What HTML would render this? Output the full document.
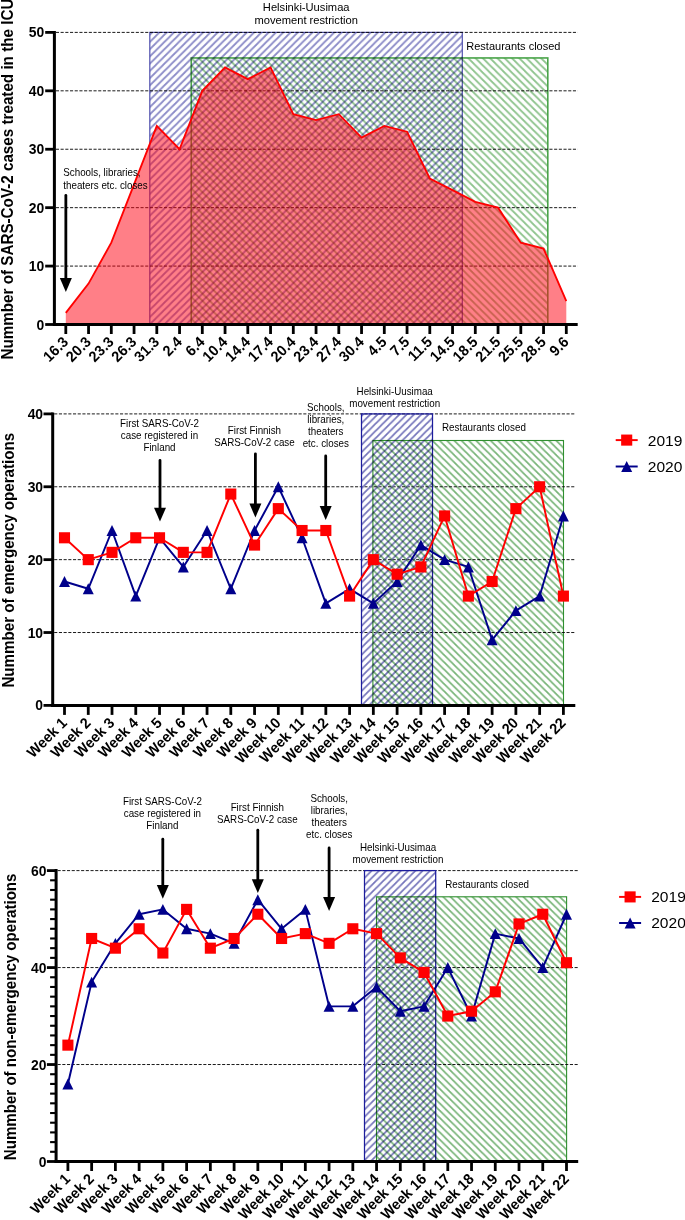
<!DOCTYPE html>
<html lang="en"><head><meta charset="utf-8"><title>ICU cases and operations</title>
<style>html,body{margin:0;padding:0;background:#fff}body{width:685px;height:1220px;overflow:hidden}svg{display:block}text{font-family:"Liberation Sans", Arial, Helvetica, sans-serif;fill:#000}</style></head><body>
<svg width="685" height="1220" viewBox="0 0 685 1220">
<rect width="685" height="1220" fill="#fff"/>
<defs>
<pattern id="hb1" patternUnits="userSpaceOnUse" width="7.285" height="7.24" x="155.84" y="36">
<path d="M-7.29,7.24 L7.29,-7.24 M-7.29,14.48 L14.57,-7.24 M0,14.48 L14.57,0" stroke="#8c8cc8" stroke-width="1.8" fill="none"/>
</pattern>
<pattern id="hg1" patternUnits="userSpaceOnUse" width="7.285" height="7.24" x="481.17" y="100">
<path d="M-7.29,-7.24 L14.57,14.48 M0,-7.24 L14.57,7.24 M-7.29,0 L7.29,14.48" stroke="#8fc48e" stroke-width="1.8" fill="none"/>
</pattern>
<pattern id="hb2" patternUnits="userSpaceOnUse" width="7.285" height="7.24" x="368.76" y="416">
<path d="M-7.29,7.24 L7.29,-7.24 M-7.29,14.48 L14.57,-7.24 M0,14.48 L14.57,0" stroke="#7474ba" stroke-width="1.75" fill="none"/>
</pattern>
<pattern id="hg2" patternUnits="userSpaceOnUse" width="7.285" height="7.24" x="444.09" y="445">
<path d="M-7.29,-7.24 L14.57,14.48 M0,-7.24 L14.57,7.24 M-7.29,0 L7.29,14.48" stroke="#78b478" stroke-width="1.75" fill="none"/>
</pattern>
<pattern id="hb3" patternUnits="userSpaceOnUse" width="7.285" height="7.24" x="369.42" y="873">
<path d="M-7.29,7.24 L7.29,-7.24 M-7.29,14.48 L14.57,-7.24 M0,14.48 L14.57,0" stroke="#7474ba" stroke-width="1.75" fill="none"/>
</pattern>
<pattern id="hg3" patternUnits="userSpaceOnUse" width="7.285" height="7.24" x="446.4" y="900">
<path d="M-7.29,-7.24 L14.57,14.48 M0,-7.24 L14.57,7.24 M-7.29,0 L7.29,14.48" stroke="#78b478" stroke-width="1.75" fill="none"/>
</pattern>
</defs>
<rect x="149.8" y="32.4" width="312.5" height="292.1" fill="url(#hb1)" stroke="#5252ae" stroke-width="1.2" style="mix-blend-mode:multiply"/>
<rect x="191.25" y="57.95" width="356.55" height="266.55" fill="url(#hg1)" stroke="#4aa44a" stroke-width="1.6" style="mix-blend-mode:multiply"/>
<line x1="55.9" y1="266.08" x2="577.7" y2="266.08" stroke="#000" stroke-width="0.9" stroke-dasharray="3.1 1.6"/>
<line x1="55.9" y1="207.66" x2="577.7" y2="207.66" stroke="#000" stroke-width="0.9" stroke-dasharray="3.1 1.6"/>
<line x1="55.9" y1="149.24" x2="577.7" y2="149.24" stroke="#000" stroke-width="0.9" stroke-dasharray="3.1 1.6"/>
<line x1="55.9" y1="90.82" x2="577.7" y2="90.82" stroke="#000" stroke-width="0.9" stroke-dasharray="3.1 1.6"/>
<line x1="55.9" y1="32.4" x2="577.7" y2="32.4" stroke="#000" stroke-width="0.9" stroke-dasharray="3.1 1.6"/>
<polygon points="65.8,324.5 65.8,312.82 88.55,283.61 111.3,242.71 134.05,184.29 156.8,125.87 179.55,149.24 202.3,90.82 225.05,67.45 247.8,79.14 270.55,67.45 293.3,114.19 316.05,120.03 338.8,114.19 361.55,137.56 384.3,125.87 407.05,131.71 429.8,178.45 452.55,190.13 475.3,201.82 498.05,207.66 520.8,242.71 543.55,248.55 566.3,301.13 566.3,324.5" fill="#ff0010" fill-opacity="0.5"/>
<polyline points="65.8,312.82 88.55,283.61 111.3,242.71 134.05,184.29 156.8,125.87 179.55,149.24 202.3,90.82 225.05,67.45 247.8,79.14 270.55,67.45 293.3,114.19 316.05,120.03 338.8,114.19 361.55,137.56 384.3,125.87 407.05,131.71 429.8,178.45 452.55,190.13 475.3,201.82 498.05,207.66 520.8,242.71 543.55,248.55 566.3,301.13" fill="none" stroke="#ff0000" stroke-width="1.85" stroke-linejoin="miter"/>
<line x1="54.4" y1="30.9" x2="54.4" y2="326" stroke="#000" stroke-width="3.0"/>
<line x1="52.9" y1="324.5" x2="577.7" y2="324.5" stroke="#000" stroke-width="3.0"/>
<line x1="45.2" y1="324.5" x2="54.4" y2="324.5" stroke="#000" stroke-width="2.8"/>
<text x="44.3" y="329.5" text-anchor="end" font-weight="700" font-size="13.9">0</text>
<line x1="45.2" y1="266.08" x2="54.4" y2="266.08" stroke="#000" stroke-width="2.8"/>
<text x="44.3" y="271.08" text-anchor="end" font-weight="700" font-size="13.9">10</text>
<line x1="45.2" y1="207.66" x2="54.4" y2="207.66" stroke="#000" stroke-width="2.8"/>
<text x="44.3" y="212.66" text-anchor="end" font-weight="700" font-size="13.9">20</text>
<line x1="45.2" y1="149.24" x2="54.4" y2="149.24" stroke="#000" stroke-width="2.8"/>
<text x="44.3" y="154.24" text-anchor="end" font-weight="700" font-size="13.9">30</text>
<line x1="45.2" y1="90.82" x2="54.4" y2="90.82" stroke="#000" stroke-width="2.8"/>
<text x="44.3" y="95.82" text-anchor="end" font-weight="700" font-size="13.9">40</text>
<line x1="45.2" y1="32.4" x2="54.4" y2="32.4" stroke="#000" stroke-width="2.8"/>
<text x="44.3" y="37.4" text-anchor="end" font-weight="700" font-size="13.9">50</text>
<line x1="65.8" y1="324.5" x2="65.8" y2="334" stroke="#000" stroke-width="2.8"/>
<line x1="88.55" y1="324.5" x2="88.55" y2="334" stroke="#000" stroke-width="2.8"/>
<line x1="111.3" y1="324.5" x2="111.3" y2="334" stroke="#000" stroke-width="2.8"/>
<line x1="134.05" y1="324.5" x2="134.05" y2="334" stroke="#000" stroke-width="2.8"/>
<line x1="156.8" y1="324.5" x2="156.8" y2="334" stroke="#000" stroke-width="2.8"/>
<line x1="179.55" y1="324.5" x2="179.55" y2="334" stroke="#000" stroke-width="2.8"/>
<line x1="202.3" y1="324.5" x2="202.3" y2="334" stroke="#000" stroke-width="2.8"/>
<line x1="225.05" y1="324.5" x2="225.05" y2="334" stroke="#000" stroke-width="2.8"/>
<line x1="247.8" y1="324.5" x2="247.8" y2="334" stroke="#000" stroke-width="2.8"/>
<line x1="270.55" y1="324.5" x2="270.55" y2="334" stroke="#000" stroke-width="2.8"/>
<line x1="293.3" y1="324.5" x2="293.3" y2="334" stroke="#000" stroke-width="2.8"/>
<line x1="316.05" y1="324.5" x2="316.05" y2="334" stroke="#000" stroke-width="2.8"/>
<line x1="338.8" y1="324.5" x2="338.8" y2="334" stroke="#000" stroke-width="2.8"/>
<line x1="361.55" y1="324.5" x2="361.55" y2="334" stroke="#000" stroke-width="2.8"/>
<line x1="384.3" y1="324.5" x2="384.3" y2="334" stroke="#000" stroke-width="2.8"/>
<line x1="407.05" y1="324.5" x2="407.05" y2="334" stroke="#000" stroke-width="2.8"/>
<line x1="429.8" y1="324.5" x2="429.8" y2="334" stroke="#000" stroke-width="2.8"/>
<line x1="452.55" y1="324.5" x2="452.55" y2="334" stroke="#000" stroke-width="2.8"/>
<line x1="475.3" y1="324.5" x2="475.3" y2="334" stroke="#000" stroke-width="2.8"/>
<line x1="498.05" y1="324.5" x2="498.05" y2="334" stroke="#000" stroke-width="2.8"/>
<line x1="520.8" y1="324.5" x2="520.8" y2="334" stroke="#000" stroke-width="2.8"/>
<line x1="543.55" y1="324.5" x2="543.55" y2="334" stroke="#000" stroke-width="2.8"/>
<line x1="566.3" y1="324.5" x2="566.3" y2="334" stroke="#000" stroke-width="2.8"/>
<g font-weight="700" font-size="14.35" text-anchor="end">
<text transform="translate(69.1 342.9) rotate(-45) scale(1 1.04)">16.3</text>
<text transform="translate(91.85 342.9) rotate(-45) scale(1 1.04)">20.3</text>
<text transform="translate(114.6 342.9) rotate(-45) scale(1 1.04)">23.3</text>
<text transform="translate(137.35 342.9) rotate(-45) scale(1 1.04)">26.3</text>
<text transform="translate(160.1 342.9) rotate(-45) scale(1 1.04)">31.3</text>
<text transform="translate(182.85 342.9) rotate(-45) scale(1 1.04)">2.4</text>
<text transform="translate(205.6 342.9) rotate(-45) scale(1 1.04)">6.4</text>
<text transform="translate(228.35 342.9) rotate(-45) scale(1 1.04)">10.4</text>
<text transform="translate(251.1 342.9) rotate(-45) scale(1 1.04)">14.4</text>
<text transform="translate(273.85 342.9) rotate(-45) scale(1 1.04)">17.4</text>
<text transform="translate(296.6 342.9) rotate(-45) scale(1 1.04)">20.4</text>
<text transform="translate(319.35 342.9) rotate(-45) scale(1 1.04)">23.4</text>
<text transform="translate(342.1 342.9) rotate(-45) scale(1 1.04)">27.4</text>
<text transform="translate(364.85 342.9) rotate(-45) scale(1 1.04)">30.4</text>
<text transform="translate(387.6 342.9) rotate(-45) scale(1 1.04)">4.5</text>
<text transform="translate(410.35 342.9) rotate(-45) scale(1 1.04)">7.5</text>
<text transform="translate(433.1 342.9) rotate(-45) scale(1 1.04)">11.5</text>
<text transform="translate(455.85 342.9) rotate(-45) scale(1 1.04)">14.5</text>
<text transform="translate(478.6 342.9) rotate(-45) scale(1 1.04)">18.5</text>
<text transform="translate(501.35 342.9) rotate(-45) scale(1 1.04)">21.5</text>
<text transform="translate(524.1 342.9) rotate(-45) scale(1 1.04)">25.5</text>
<text transform="translate(546.85 342.9) rotate(-45) scale(1 1.04)">28.5</text>
<text transform="translate(569.6 342.9) rotate(-45) scale(1 1.04)">9.6</text>
</g>
<text transform="translate(12.5 359.5) rotate(-90) scale(1 1.04)" font-weight="700" font-size="15.22">Nummber of SARS-CoV-2 cases treated in the ICU</text>
<text x="306.2" y="10.6" text-anchor="middle" font-size="11.15">Helsinki-Uusimaa</text>
<text x="306.2" y="23.9" text-anchor="middle" font-size="11.15">movement restriction</text>
<text x="466.3" y="49.6" text-anchor="start" font-size="11.0">Restaurants closed</text>
<text transform="translate(63.3 176.4) scale(0.9346 1)" text-anchor="start" font-size="10.49">Schools, libraries,</text>
<text transform="translate(63.3 188.5) scale(0.9346 1)" text-anchor="start" font-size="10.49">theaters etc. closes</text>
<line x1="65.85" y1="195.4" x2="65.85" y2="278.5" stroke="#000" stroke-width="2.8" stroke-linecap="round"/>
<polygon points="59.85,278 71.85,278 65.85,291.9" fill="#000"/>
<line x1="54.2" y1="632.52" x2="575.3" y2="632.52" stroke="#000" stroke-width="0.9" stroke-dasharray="3.1 1.6"/>
<line x1="54.2" y1="559.65" x2="575.3" y2="559.65" stroke="#000" stroke-width="0.9" stroke-dasharray="3.1 1.6"/>
<line x1="54.2" y1="486.77" x2="575.3" y2="486.77" stroke="#000" stroke-width="0.9" stroke-dasharray="3.1 1.6"/>
<line x1="54.2" y1="413.9" x2="575.3" y2="413.9" stroke="#000" stroke-width="0.9" stroke-dasharray="3.1 1.6"/>
<rect x="361.5" y="413.9" width="71" height="291.5" fill="url(#hb2)" stroke="#1c1c9c" stroke-width="1.25"/>
<rect x="372.9" y="440.5" width="190.6" height="264.9" fill="url(#hg2)" stroke="#2f8f2f" stroke-width="1.1" style="mix-blend-mode:multiply"/>
<polyline points="64.5,581.51 88.26,588.8 112.01,530.5 135.77,596.09 159.53,537.79 183.29,566.94 207.04,530.5 230.8,588.8 254.56,530.5 278.31,486.77 302.07,537.79 325.83,603.38 349.58,588.8 373.34,603.38 397.1,581.51 420.86,545.08 444.61,559.65 468.37,566.94 492.13,639.81 515.88,610.66 539.64,596.09 563.4,515.92" fill="none" stroke="#00008b" stroke-width="1.95" stroke-linejoin="round"/>
<polygon points="64.5,576.06 59,586.96 70,586.96" fill="#00008b"/>
<polygon points="88.26,583.35 82.76,594.25 93.76,594.25" fill="#00008b"/>
<polygon points="112.01,525.05 106.51,535.95 117.51,535.95" fill="#00008b"/>
<polygon points="135.77,590.64 130.27,601.54 141.27,601.54" fill="#00008b"/>
<polygon points="159.53,532.34 154.03,543.24 165.03,543.24" fill="#00008b"/>
<polygon points="183.29,561.49 177.79,572.39 188.79,572.39" fill="#00008b"/>
<polygon points="207.04,525.05 201.54,535.95 212.54,535.95" fill="#00008b"/>
<polygon points="230.8,583.35 225.3,594.25 236.3,594.25" fill="#00008b"/>
<polygon points="254.56,525.05 249.06,535.95 260.06,535.95" fill="#00008b"/>
<polygon points="278.31,481.32 272.81,492.22 283.81,492.22" fill="#00008b"/>
<polygon points="302.07,532.34 296.57,543.24 307.57,543.24" fill="#00008b"/>
<polygon points="325.83,597.92 320.33,608.83 331.33,608.83" fill="#00008b"/>
<polygon points="349.58,583.35 344.08,594.25 355.08,594.25" fill="#00008b"/>
<polygon points="373.34,597.92 367.84,608.83 378.84,608.83" fill="#00008b"/>
<polygon points="397.1,576.06 391.6,586.96 402.6,586.96" fill="#00008b"/>
<polygon points="420.86,539.62 415.36,550.53 426.36,550.53" fill="#00008b"/>
<polygon points="444.61,554.2 439.11,565.1 450.11,565.1" fill="#00008b"/>
<polygon points="468.37,561.49 462.87,572.39 473.87,572.39" fill="#00008b"/>
<polygon points="492.13,634.36 486.63,645.26 497.63,645.26" fill="#00008b"/>
<polygon points="515.88,605.21 510.38,616.11 521.38,616.11" fill="#00008b"/>
<polygon points="539.64,590.64 534.14,601.54 545.14,601.54" fill="#00008b"/>
<polygon points="563.4,510.47 557.9,521.38 568.9,521.38" fill="#00008b"/>
<polyline points="64.5,537.79 88.26,559.65 112.01,552.36 135.77,537.79 159.53,537.79 183.29,552.36 207.04,552.36 230.8,494.06 254.56,545.08 278.31,508.64 302.07,530.5 325.83,530.5 349.58,596.09 373.34,559.65 397.1,574.23 420.86,566.94 444.61,515.92 468.37,596.09 492.13,581.51 515.88,508.64 539.64,486.77 563.4,596.09" fill="none" stroke="#ff0000" stroke-width="1.95" stroke-linejoin="round"/>
<rect x="58.95" y="532.24" width="11.1" height="11.1" fill="#ff0000"/>
<rect x="82.71" y="554.1" width="11.1" height="11.1" fill="#ff0000"/>
<rect x="106.46" y="546.81" width="11.1" height="11.1" fill="#ff0000"/>
<rect x="130.22" y="532.24" width="11.1" height="11.1" fill="#ff0000"/>
<rect x="153.98" y="532.24" width="11.1" height="11.1" fill="#ff0000"/>
<rect x="177.74" y="546.81" width="11.1" height="11.1" fill="#ff0000"/>
<rect x="201.49" y="546.81" width="11.1" height="11.1" fill="#ff0000"/>
<rect x="225.25" y="488.51" width="11.1" height="11.1" fill="#ff0000"/>
<rect x="249.01" y="539.53" width="11.1" height="11.1" fill="#ff0000"/>
<rect x="272.76" y="503.09" width="11.1" height="11.1" fill="#ff0000"/>
<rect x="296.52" y="524.95" width="11.1" height="11.1" fill="#ff0000"/>
<rect x="320.28" y="524.95" width="11.1" height="11.1" fill="#ff0000"/>
<rect x="344.03" y="590.54" width="11.1" height="11.1" fill="#ff0000"/>
<rect x="367.79" y="554.1" width="11.1" height="11.1" fill="#ff0000"/>
<rect x="391.55" y="568.68" width="11.1" height="11.1" fill="#ff0000"/>
<rect x="415.31" y="561.39" width="11.1" height="11.1" fill="#ff0000"/>
<rect x="439.06" y="510.37" width="11.1" height="11.1" fill="#ff0000"/>
<rect x="462.82" y="590.54" width="11.1" height="11.1" fill="#ff0000"/>
<rect x="486.58" y="575.96" width="11.1" height="11.1" fill="#ff0000"/>
<rect x="510.33" y="503.09" width="11.1" height="11.1" fill="#ff0000"/>
<rect x="534.09" y="481.22" width="11.1" height="11.1" fill="#ff0000"/>
<rect x="557.85" y="590.54" width="11.1" height="11.1" fill="#ff0000"/>
<line x1="52.7" y1="412.4" x2="52.7" y2="706.9" stroke="#000" stroke-width="3.0"/>
<line x1="51.2" y1="705.4" x2="575.3" y2="705.4" stroke="#000" stroke-width="3.0"/>
<line x1="43.5" y1="705.4" x2="52.7" y2="705.4" stroke="#000" stroke-width="2.8"/>
<text x="43.1" y="710.4" text-anchor="end" font-weight="700" font-size="13.9">0</text>
<line x1="43.5" y1="632.52" x2="52.7" y2="632.52" stroke="#000" stroke-width="2.8"/>
<text x="43.1" y="637.52" text-anchor="end" font-weight="700" font-size="13.9">10</text>
<line x1="43.5" y1="559.65" x2="52.7" y2="559.65" stroke="#000" stroke-width="2.8"/>
<text x="43.1" y="564.65" text-anchor="end" font-weight="700" font-size="13.9">20</text>
<line x1="43.5" y1="486.77" x2="52.7" y2="486.77" stroke="#000" stroke-width="2.8"/>
<text x="43.1" y="491.77" text-anchor="end" font-weight="700" font-size="13.9">30</text>
<line x1="43.5" y1="413.9" x2="52.7" y2="413.9" stroke="#000" stroke-width="2.8"/>
<text x="43.1" y="418.9" text-anchor="end" font-weight="700" font-size="13.9">40</text>
<line x1="64.5" y1="705.4" x2="64.5" y2="714.9" stroke="#000" stroke-width="2.8"/>
<line x1="88.26" y1="705.4" x2="88.26" y2="714.9" stroke="#000" stroke-width="2.8"/>
<line x1="112.01" y1="705.4" x2="112.01" y2="714.9" stroke="#000" stroke-width="2.8"/>
<line x1="135.77" y1="705.4" x2="135.77" y2="714.9" stroke="#000" stroke-width="2.8"/>
<line x1="159.53" y1="705.4" x2="159.53" y2="714.9" stroke="#000" stroke-width="2.8"/>
<line x1="183.29" y1="705.4" x2="183.29" y2="714.9" stroke="#000" stroke-width="2.8"/>
<line x1="207.04" y1="705.4" x2="207.04" y2="714.9" stroke="#000" stroke-width="2.8"/>
<line x1="230.8" y1="705.4" x2="230.8" y2="714.9" stroke="#000" stroke-width="2.8"/>
<line x1="254.56" y1="705.4" x2="254.56" y2="714.9" stroke="#000" stroke-width="2.8"/>
<line x1="278.31" y1="705.4" x2="278.31" y2="714.9" stroke="#000" stroke-width="2.8"/>
<line x1="302.07" y1="705.4" x2="302.07" y2="714.9" stroke="#000" stroke-width="2.8"/>
<line x1="325.83" y1="705.4" x2="325.83" y2="714.9" stroke="#000" stroke-width="2.8"/>
<line x1="349.58" y1="705.4" x2="349.58" y2="714.9" stroke="#000" stroke-width="2.8"/>
<line x1="373.34" y1="705.4" x2="373.34" y2="714.9" stroke="#000" stroke-width="2.8"/>
<line x1="397.1" y1="705.4" x2="397.1" y2="714.9" stroke="#000" stroke-width="2.8"/>
<line x1="420.86" y1="705.4" x2="420.86" y2="714.9" stroke="#000" stroke-width="2.8"/>
<line x1="444.61" y1="705.4" x2="444.61" y2="714.9" stroke="#000" stroke-width="2.8"/>
<line x1="468.37" y1="705.4" x2="468.37" y2="714.9" stroke="#000" stroke-width="2.8"/>
<line x1="492.13" y1="705.4" x2="492.13" y2="714.9" stroke="#000" stroke-width="2.8"/>
<line x1="515.88" y1="705.4" x2="515.88" y2="714.9" stroke="#000" stroke-width="2.8"/>
<line x1="539.64" y1="705.4" x2="539.64" y2="714.9" stroke="#000" stroke-width="2.8"/>
<line x1="563.4" y1="705.4" x2="563.4" y2="714.9" stroke="#000" stroke-width="2.8"/>
<g font-weight="700" font-size="14.35" text-anchor="end">
<text transform="translate(67.8 723.8) rotate(-45) scale(1 1.04)">Week 1</text>
<text transform="translate(91.56 723.8) rotate(-45) scale(1 1.04)">Week 2</text>
<text transform="translate(115.31 723.8) rotate(-45) scale(1 1.04)">Week 3</text>
<text transform="translate(139.07 723.8) rotate(-45) scale(1 1.04)">Week 4</text>
<text transform="translate(162.83 723.8) rotate(-45) scale(1 1.04)">Week 5</text>
<text transform="translate(186.59 723.8) rotate(-45) scale(1 1.04)">Week 6</text>
<text transform="translate(210.34 723.8) rotate(-45) scale(1 1.04)">Week 7</text>
<text transform="translate(234.1 723.8) rotate(-45) scale(1 1.04)">Week 8</text>
<text transform="translate(257.86 723.8) rotate(-45) scale(1 1.04)">Week 9</text>
<text transform="translate(281.61 723.8) rotate(-45) scale(1 1.04)">Week 10</text>
<text transform="translate(305.37 723.8) rotate(-45) scale(1 1.04)">Week 11</text>
<text transform="translate(329.13 723.8) rotate(-45) scale(1 1.04)">Week 12</text>
<text transform="translate(352.88 723.8) rotate(-45) scale(1 1.04)">Week 13</text>
<text transform="translate(376.64 723.8) rotate(-45) scale(1 1.04)">Week 14</text>
<text transform="translate(400.4 723.8) rotate(-45) scale(1 1.04)">Week 15</text>
<text transform="translate(424.16 723.8) rotate(-45) scale(1 1.04)">Week 16</text>
<text transform="translate(447.91 723.8) rotate(-45) scale(1 1.04)">Week 17</text>
<text transform="translate(471.67 723.8) rotate(-45) scale(1 1.04)">Week 18</text>
<text transform="translate(495.43 723.8) rotate(-45) scale(1 1.04)">Week 19</text>
<text transform="translate(519.18 723.8) rotate(-45) scale(1 1.04)">Week 20</text>
<text transform="translate(542.94 723.8) rotate(-45) scale(1 1.04)">Week 21</text>
<text transform="translate(566.7 723.8) rotate(-45) scale(1 1.04)">Week 22</text>
</g>
<text transform="translate(14.1 687.6) rotate(-90) scale(1 1.04)" font-weight="700" font-size="15.15">Nummber of emergency operations</text>
<text transform="translate(159.5 426.9) scale(0.9346 1)" text-anchor="middle" font-size="10.49">First SARS-CoV-2</text>
<text transform="translate(159.5 438.85) scale(0.9346 1)" text-anchor="middle" font-size="10.49">case registered in</text>
<text transform="translate(159.5 450.8) scale(0.9346 1)" text-anchor="middle" font-size="10.49">Finland</text>
<text transform="translate(254.4 433.7) scale(0.9346 1)" text-anchor="middle" font-size="10.49">First Finnish</text>
<text transform="translate(254.4 446.2) scale(0.9346 1)" text-anchor="middle" font-size="10.49">SARS-CoV-2 case</text>
<text transform="translate(325.8 410.8) scale(0.9346 1)" text-anchor="middle" font-size="10.49">Schools,</text>
<text transform="translate(325.8 422.75) scale(0.9346 1)" text-anchor="middle" font-size="10.49">libraries,</text>
<text transform="translate(325.8 434.7) scale(0.9346 1)" text-anchor="middle" font-size="10.49">theaters</text>
<text transform="translate(325.8 446.65) scale(0.9346 1)" text-anchor="middle" font-size="10.49">etc. closes</text>
<text transform="translate(394.7 394.6) scale(0.9346 1)" text-anchor="middle" font-size="10.49">Helsinki-Uusimaa</text>
<text transform="translate(394.7 406.6) scale(0.9346 1)" text-anchor="middle" font-size="10.49">movement restriction</text>
<text transform="translate(442 431.3) scale(0.9346 1)" text-anchor="start" font-size="10.49">Restaurants closed</text>
<line x1="160" y1="460.4" x2="160" y2="508.2" stroke="#000" stroke-width="2.8" stroke-linecap="round"/>
<polygon points="154,507.7 166,507.7 160,521.6" fill="#000"/>
<line x1="255.4" y1="453.8" x2="255.4" y2="504.1" stroke="#000" stroke-width="2.8" stroke-linecap="round"/>
<polygon points="249.4,503.6 261.4,503.6 255.4,517.5" fill="#000"/>
<line x1="325.7" y1="455.9" x2="325.7" y2="506.5" stroke="#000" stroke-width="2.8" stroke-linecap="round"/>
<polygon points="319.7,506 331.7,506 325.7,519.9" fill="#000"/>
<line x1="615.7" y1="440.1" x2="637.7" y2="440.1" stroke="#ff0000" stroke-width="1.95"/>
<rect x="621.15" y="434.55" width="11.1" height="11.1" fill="#ff0000"/>
<text x="647.8" y="445.5" font-size="15.55">2019</text>
<line x1="615.7" y1="466.5" x2="637.7" y2="466.5" stroke="#00008b" stroke-width="1.95"/>
<polygon points="626.7,461.05 621.2,471.95 632.2,471.95" fill="#00008b"/>
<text x="647.8" y="471.9" font-size="15.55">2020</text>
<line x1="57.6" y1="1064.53" x2="578.2" y2="1064.53" stroke="#000" stroke-width="0.9" stroke-dasharray="3.1 1.6"/>
<line x1="57.6" y1="967.57" x2="578.2" y2="967.57" stroke="#000" stroke-width="0.9" stroke-dasharray="3.1 1.6"/>
<line x1="57.6" y1="870.6" x2="578.2" y2="870.6" stroke="#000" stroke-width="0.9" stroke-dasharray="3.1 1.6"/>
<rect x="364.5" y="870.6" width="71.2" height="290.9" fill="url(#hb3)" stroke="#1c1c9c" stroke-width="1.25"/>
<rect x="376.5" y="896.8" width="190.1" height="264.7" fill="url(#hg3)" stroke="#2f8f2f" stroke-width="1.1" style="mix-blend-mode:multiply"/>
<polyline points="67.9,1083.93 91.64,982.11 115.39,943.33 139.13,914.24 162.87,909.39 186.62,928.78 210.36,933.63 234.1,943.33 257.84,899.69 281.59,928.78 305.33,909.39 329.07,1006.35 352.82,1006.35 376.56,986.96 400.3,1011.2 424.04,1006.35 447.79,967.57 471.53,1016.05 495.27,933.63 519.02,938.48 542.76,967.57 566.5,914.24" fill="none" stroke="#00008b" stroke-width="1.95" stroke-linejoin="round"/>
<polygon points="67.9,1078.48 62.4,1089.38 73.4,1089.38" fill="#00008b"/>
<polygon points="91.64,976.66 86.14,987.56 97.14,987.56" fill="#00008b"/>
<polygon points="115.39,937.88 109.89,948.78 120.89,948.78" fill="#00008b"/>
<polygon points="139.13,908.78 133.63,919.69 144.63,919.69" fill="#00008b"/>
<polygon points="162.87,903.94 157.37,914.84 168.37,914.84" fill="#00008b"/>
<polygon points="186.62,923.33 181.12,934.23 192.12,934.23" fill="#00008b"/>
<polygon points="210.36,928.18 204.86,939.08 215.86,939.08" fill="#00008b"/>
<polygon points="234.1,937.88 228.6,948.78 239.6,948.78" fill="#00008b"/>
<polygon points="257.84,894.24 252.34,905.14 263.34,905.14" fill="#00008b"/>
<polygon points="281.59,923.33 276.09,934.23 287.09,934.23" fill="#00008b"/>
<polygon points="305.33,903.94 299.83,914.84 310.83,914.84" fill="#00008b"/>
<polygon points="329.07,1000.9 323.57,1011.8 334.57,1011.8" fill="#00008b"/>
<polygon points="352.82,1000.9 347.32,1011.8 358.32,1011.8" fill="#00008b"/>
<polygon points="376.56,981.51 371.06,992.41 382.06,992.41" fill="#00008b"/>
<polygon points="400.3,1005.75 394.8,1016.65 405.8,1016.65" fill="#00008b"/>
<polygon points="424.04,1000.9 418.54,1011.8 429.54,1011.8" fill="#00008b"/>
<polygon points="447.79,962.12 442.29,973.02 453.29,973.02" fill="#00008b"/>
<polygon points="471.53,1010.6 466.03,1021.5 477.03,1021.5" fill="#00008b"/>
<polygon points="495.27,928.18 489.77,939.08 500.77,939.08" fill="#00008b"/>
<polygon points="519.02,933.03 513.52,943.93 524.52,943.93" fill="#00008b"/>
<polygon points="542.76,962.12 537.26,973.02 548.26,973.02" fill="#00008b"/>
<polygon points="566.5,908.78 561,919.69 572,919.69" fill="#00008b"/>
<polyline points="67.9,1045.14 91.64,938.48 115.39,948.17 139.13,928.78 162.87,953.02 186.62,909.39 210.36,948.17 234.1,938.48 257.84,914.24 281.59,938.48 305.33,933.63 329.07,943.33 352.82,928.78 376.56,933.63 400.3,957.87 424.04,972.41 447.79,1016.05 471.53,1011.2 495.27,991.81 519.02,923.93 542.76,914.24 566.5,962.72" fill="none" stroke="#ff0000" stroke-width="1.95" stroke-linejoin="round"/>
<rect x="62.35" y="1039.59" width="11.1" height="11.1" fill="#ff0000"/>
<rect x="86.09" y="932.93" width="11.1" height="11.1" fill="#ff0000"/>
<rect x="109.84" y="942.62" width="11.1" height="11.1" fill="#ff0000"/>
<rect x="133.58" y="923.23" width="11.1" height="11.1" fill="#ff0000"/>
<rect x="157.32" y="947.47" width="11.1" height="11.1" fill="#ff0000"/>
<rect x="181.06" y="903.84" width="11.1" height="11.1" fill="#ff0000"/>
<rect x="204.81" y="942.62" width="11.1" height="11.1" fill="#ff0000"/>
<rect x="228.55" y="932.93" width="11.1" height="11.1" fill="#ff0000"/>
<rect x="252.29" y="908.69" width="11.1" height="11.1" fill="#ff0000"/>
<rect x="276.04" y="932.93" width="11.1" height="11.1" fill="#ff0000"/>
<rect x="299.78" y="928.08" width="11.1" height="11.1" fill="#ff0000"/>
<rect x="323.52" y="937.78" width="11.1" height="11.1" fill="#ff0000"/>
<rect x="347.27" y="923.23" width="11.1" height="11.1" fill="#ff0000"/>
<rect x="371.01" y="928.08" width="11.1" height="11.1" fill="#ff0000"/>
<rect x="394.75" y="952.32" width="11.1" height="11.1" fill="#ff0000"/>
<rect x="418.49" y="966.87" width="11.1" height="11.1" fill="#ff0000"/>
<rect x="442.24" y="1010.5" width="11.1" height="11.1" fill="#ff0000"/>
<rect x="465.98" y="1005.65" width="11.1" height="11.1" fill="#ff0000"/>
<rect x="489.72" y="986.26" width="11.1" height="11.1" fill="#ff0000"/>
<rect x="513.47" y="918.38" width="11.1" height="11.1" fill="#ff0000"/>
<rect x="537.21" y="908.69" width="11.1" height="11.1" fill="#ff0000"/>
<rect x="560.95" y="957.17" width="11.1" height="11.1" fill="#ff0000"/>
<line x1="56.1" y1="869.1" x2="56.1" y2="1163" stroke="#000" stroke-width="3.0"/>
<line x1="54.6" y1="1161.5" x2="578.2" y2="1161.5" stroke="#000" stroke-width="3.0"/>
<line x1="46.9" y1="1161.5" x2="56.1" y2="1161.5" stroke="#000" stroke-width="2.8"/>
<text x="46.5" y="1166.5" text-anchor="end" font-weight="700" font-size="13.9">0</text>
<line x1="46.9" y1="1064.53" x2="56.1" y2="1064.53" stroke="#000" stroke-width="2.8"/>
<text x="46.5" y="1069.53" text-anchor="end" font-weight="700" font-size="13.9">20</text>
<line x1="46.9" y1="967.57" x2="56.1" y2="967.57" stroke="#000" stroke-width="2.8"/>
<text x="46.5" y="972.57" text-anchor="end" font-weight="700" font-size="13.9">40</text>
<line x1="46.9" y1="870.6" x2="56.1" y2="870.6" stroke="#000" stroke-width="2.8"/>
<text x="46.5" y="875.6" text-anchor="end" font-weight="700" font-size="13.9">60</text>
<line x1="50.1" y1="1151.8" x2="56.1" y2="1151.8" stroke="#000" stroke-width="2.1"/>
<line x1="50.1" y1="1142.11" x2="56.1" y2="1142.11" stroke="#000" stroke-width="2.1"/>
<line x1="50.1" y1="1132.41" x2="56.1" y2="1132.41" stroke="#000" stroke-width="2.1"/>
<line x1="50.1" y1="1122.71" x2="56.1" y2="1122.71" stroke="#000" stroke-width="2.1"/>
<line x1="50.1" y1="1113.02" x2="56.1" y2="1113.02" stroke="#000" stroke-width="2.1"/>
<line x1="50.1" y1="1103.32" x2="56.1" y2="1103.32" stroke="#000" stroke-width="2.1"/>
<line x1="50.1" y1="1093.62" x2="56.1" y2="1093.62" stroke="#000" stroke-width="2.1"/>
<line x1="50.1" y1="1083.93" x2="56.1" y2="1083.93" stroke="#000" stroke-width="2.1"/>
<line x1="50.1" y1="1074.23" x2="56.1" y2="1074.23" stroke="#000" stroke-width="2.1"/>
<line x1="50.1" y1="1054.84" x2="56.1" y2="1054.84" stroke="#000" stroke-width="2.1"/>
<line x1="50.1" y1="1045.14" x2="56.1" y2="1045.14" stroke="#000" stroke-width="2.1"/>
<line x1="50.1" y1="1035.44" x2="56.1" y2="1035.44" stroke="#000" stroke-width="2.1"/>
<line x1="50.1" y1="1025.75" x2="56.1" y2="1025.75" stroke="#000" stroke-width="2.1"/>
<line x1="50.1" y1="1016.05" x2="56.1" y2="1016.05" stroke="#000" stroke-width="2.1"/>
<line x1="50.1" y1="1006.35" x2="56.1" y2="1006.35" stroke="#000" stroke-width="2.1"/>
<line x1="50.1" y1="996.66" x2="56.1" y2="996.66" stroke="#000" stroke-width="2.1"/>
<line x1="50.1" y1="986.96" x2="56.1" y2="986.96" stroke="#000" stroke-width="2.1"/>
<line x1="50.1" y1="977.26" x2="56.1" y2="977.26" stroke="#000" stroke-width="2.1"/>
<line x1="50.1" y1="957.87" x2="56.1" y2="957.87" stroke="#000" stroke-width="2.1"/>
<line x1="50.1" y1="948.17" x2="56.1" y2="948.17" stroke="#000" stroke-width="2.1"/>
<line x1="50.1" y1="938.48" x2="56.1" y2="938.48" stroke="#000" stroke-width="2.1"/>
<line x1="50.1" y1="928.78" x2="56.1" y2="928.78" stroke="#000" stroke-width="2.1"/>
<line x1="50.1" y1="919.08" x2="56.1" y2="919.08" stroke="#000" stroke-width="2.1"/>
<line x1="50.1" y1="909.39" x2="56.1" y2="909.39" stroke="#000" stroke-width="2.1"/>
<line x1="50.1" y1="899.69" x2="56.1" y2="899.69" stroke="#000" stroke-width="2.1"/>
<line x1="50.1" y1="889.99" x2="56.1" y2="889.99" stroke="#000" stroke-width="2.1"/>
<line x1="50.1" y1="880.3" x2="56.1" y2="880.3" stroke="#000" stroke-width="2.1"/>
<line x1="67.9" y1="1161.5" x2="67.9" y2="1171" stroke="#000" stroke-width="2.8"/>
<line x1="91.64" y1="1161.5" x2="91.64" y2="1171" stroke="#000" stroke-width="2.8"/>
<line x1="115.39" y1="1161.5" x2="115.39" y2="1171" stroke="#000" stroke-width="2.8"/>
<line x1="139.13" y1="1161.5" x2="139.13" y2="1171" stroke="#000" stroke-width="2.8"/>
<line x1="162.87" y1="1161.5" x2="162.87" y2="1171" stroke="#000" stroke-width="2.8"/>
<line x1="186.62" y1="1161.5" x2="186.62" y2="1171" stroke="#000" stroke-width="2.8"/>
<line x1="210.36" y1="1161.5" x2="210.36" y2="1171" stroke="#000" stroke-width="2.8"/>
<line x1="234.1" y1="1161.5" x2="234.1" y2="1171" stroke="#000" stroke-width="2.8"/>
<line x1="257.84" y1="1161.5" x2="257.84" y2="1171" stroke="#000" stroke-width="2.8"/>
<line x1="281.59" y1="1161.5" x2="281.59" y2="1171" stroke="#000" stroke-width="2.8"/>
<line x1="305.33" y1="1161.5" x2="305.33" y2="1171" stroke="#000" stroke-width="2.8"/>
<line x1="329.07" y1="1161.5" x2="329.07" y2="1171" stroke="#000" stroke-width="2.8"/>
<line x1="352.82" y1="1161.5" x2="352.82" y2="1171" stroke="#000" stroke-width="2.8"/>
<line x1="376.56" y1="1161.5" x2="376.56" y2="1171" stroke="#000" stroke-width="2.8"/>
<line x1="400.3" y1="1161.5" x2="400.3" y2="1171" stroke="#000" stroke-width="2.8"/>
<line x1="424.04" y1="1161.5" x2="424.04" y2="1171" stroke="#000" stroke-width="2.8"/>
<line x1="447.79" y1="1161.5" x2="447.79" y2="1171" stroke="#000" stroke-width="2.8"/>
<line x1="471.53" y1="1161.5" x2="471.53" y2="1171" stroke="#000" stroke-width="2.8"/>
<line x1="495.27" y1="1161.5" x2="495.27" y2="1171" stroke="#000" stroke-width="2.8"/>
<line x1="519.02" y1="1161.5" x2="519.02" y2="1171" stroke="#000" stroke-width="2.8"/>
<line x1="542.76" y1="1161.5" x2="542.76" y2="1171" stroke="#000" stroke-width="2.8"/>
<line x1="566.5" y1="1161.5" x2="566.5" y2="1171" stroke="#000" stroke-width="2.8"/>
<g font-weight="700" font-size="14.35" text-anchor="end">
<text transform="translate(71.2 1179.9) rotate(-45) scale(1 1.04)">Week 1</text>
<text transform="translate(94.94 1179.9) rotate(-45) scale(1 1.04)">Week 2</text>
<text transform="translate(118.69 1179.9) rotate(-45) scale(1 1.04)">Week 3</text>
<text transform="translate(142.43 1179.9) rotate(-45) scale(1 1.04)">Week 4</text>
<text transform="translate(166.17 1179.9) rotate(-45) scale(1 1.04)">Week 5</text>
<text transform="translate(189.92 1179.9) rotate(-45) scale(1 1.04)">Week 6</text>
<text transform="translate(213.66 1179.9) rotate(-45) scale(1 1.04)">Week 7</text>
<text transform="translate(237.4 1179.9) rotate(-45) scale(1 1.04)">Week 8</text>
<text transform="translate(261.14 1179.9) rotate(-45) scale(1 1.04)">Week 9</text>
<text transform="translate(284.89 1179.9) rotate(-45) scale(1 1.04)">Week 10</text>
<text transform="translate(308.63 1179.9) rotate(-45) scale(1 1.04)">Week 11</text>
<text transform="translate(332.37 1179.9) rotate(-45) scale(1 1.04)">Week 12</text>
<text transform="translate(356.12 1179.9) rotate(-45) scale(1 1.04)">Week 13</text>
<text transform="translate(379.86 1179.9) rotate(-45) scale(1 1.04)">Week 14</text>
<text transform="translate(403.6 1179.9) rotate(-45) scale(1 1.04)">Week 15</text>
<text transform="translate(427.34 1179.9) rotate(-45) scale(1 1.04)">Week 16</text>
<text transform="translate(451.09 1179.9) rotate(-45) scale(1 1.04)">Week 17</text>
<text transform="translate(474.83 1179.9) rotate(-45) scale(1 1.04)">Week 18</text>
<text transform="translate(498.57 1179.9) rotate(-45) scale(1 1.04)">Week 19</text>
<text transform="translate(522.32 1179.9) rotate(-45) scale(1 1.04)">Week 20</text>
<text transform="translate(546.06 1179.9) rotate(-45) scale(1 1.04)">Week 21</text>
<text transform="translate(569.8 1179.9) rotate(-45) scale(1 1.04)">Week 22</text>
</g>
<text transform="translate(15.8 1160.2) rotate(-90) scale(1 1.04)" font-weight="700" font-size="15.1">Nummber of non-emergency operations</text>
<text transform="translate(162.4 805) scale(0.9346 1)" text-anchor="middle" font-size="10.49">First SARS-CoV-2</text>
<text transform="translate(162.4 817) scale(0.9346 1)" text-anchor="middle" font-size="10.49">case registered in</text>
<text transform="translate(162.4 829) scale(0.9346 1)" text-anchor="middle" font-size="10.49">Finland</text>
<text transform="translate(257.3 810.6) scale(0.9346 1)" text-anchor="middle" font-size="10.49">First Finnish</text>
<text transform="translate(257.3 823) scale(0.9346 1)" text-anchor="middle" font-size="10.49">SARS-CoV-2 case</text>
<text transform="translate(329.2 801.5) scale(0.9346 1)" text-anchor="middle" font-size="10.49">Schools,</text>
<text transform="translate(329.2 813.6) scale(0.9346 1)" text-anchor="middle" font-size="10.49">libraries,</text>
<text transform="translate(329.2 825.7) scale(0.9346 1)" text-anchor="middle" font-size="10.49">theaters</text>
<text transform="translate(329.2 837.8) scale(0.9346 1)" text-anchor="middle" font-size="10.49">etc. closes</text>
<text transform="translate(398 851.3) scale(0.9346 1)" text-anchor="middle" font-size="10.49">Helsinki-Uusimaa</text>
<text transform="translate(398 863.4) scale(0.9346 1)" text-anchor="middle" font-size="10.49">movement restriction</text>
<text transform="translate(445.2 888.2) scale(0.9346 1)" text-anchor="start" font-size="10.49">Restaurants closed</text>
<line x1="162.8" y1="839.2" x2="162.8" y2="885.4" stroke="#000" stroke-width="2.8" stroke-linecap="round"/>
<polygon points="156.8,884.9 168.8,884.9 162.8,898.8" fill="#000"/>
<line x1="257.8" y1="830.2" x2="257.8" y2="879.7" stroke="#000" stroke-width="2.8" stroke-linecap="round"/>
<polygon points="251.8,879.2 263.8,879.2 257.8,893.1" fill="#000"/>
<line x1="329.1" y1="847.9" x2="329.1" y2="897.6" stroke="#000" stroke-width="2.8" stroke-linecap="round"/>
<polygon points="323.1,897.1 335.1,897.1 329.1,911" fill="#000"/>
<line x1="619.1" y1="896.9" x2="641.1" y2="896.9" stroke="#ff0000" stroke-width="1.95"/>
<rect x="624.55" y="891.35" width="11.1" height="11.1" fill="#ff0000"/>
<text x="651.2" y="902.3" font-size="15.55">2019</text>
<line x1="619.1" y1="923" x2="641.1" y2="923" stroke="#00008b" stroke-width="1.95"/>
<polygon points="630.1,917.55 624.6,928.45 635.6,928.45" fill="#00008b"/>
<text x="651.2" y="928.4" font-size="15.55">2020</text>
</svg></body></html>
